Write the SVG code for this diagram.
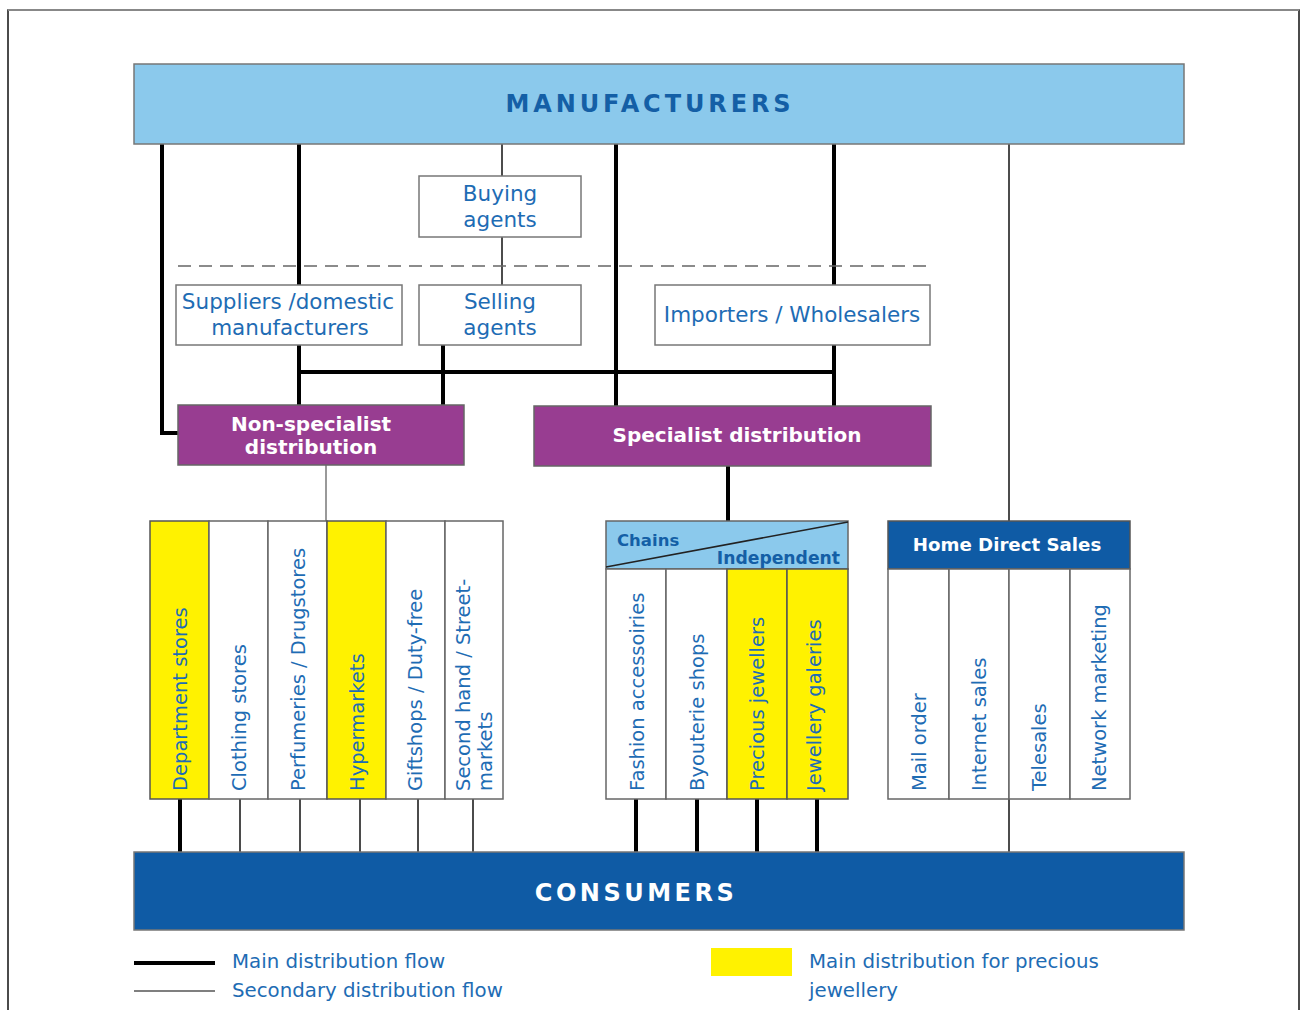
<svg xmlns="http://www.w3.org/2000/svg" width="1301" height="1010" viewBox="0 0 1301 1010">
<style>
.box{fill:#fff;stroke:#777;stroke-width:1.5}
.col{fill:#fff;stroke:#666;stroke-width:1.5}
.yel{fill:#fff200;stroke:#555;stroke-width:1.5}
.pur{fill:#983d91;stroke:#666;stroke-width:1.5}
.t{font-family:"DejaVu Sans",Verdana,sans-serif;fill:#1e6cb4;font-size:21.5px;text-anchor:middle}
.v{font-family:"DejaVu Sans",Verdana,sans-serif;fill:#1e6cb4;font-size:19.5px}
.w{font-family:"DejaVu Sans",Verdana,sans-serif;fill:#fff;font-weight:bold;font-size:20px;text-anchor:middle}
.thick{stroke:#000;stroke-width:4;fill:none}
.thin{stroke:#111;stroke-width:1.5;fill:none}
.lg{font-family:"DejaVu Sans",Verdana,sans-serif;fill:#1e6cb4;font-size:19.8px}
</style>
<rect x="0" y="0" width="1301" height="1010" fill="#fff"/>
<path d="M8 1010 V10 H1299 V1010" fill="none" stroke="#111" stroke-width="1.5"/>
<line x1="8" y1="10" x2="1299" y2="10" stroke="#888" stroke-width="2"/>

<g id="connectors">
<path class="thick" d="M162 144 V433 H178"/>
<path class="thick" d="M299 144 V285"/>
<path class="thick" d="M299 345 V405"/>
<path class="thin" d="M502 144 V176"/>
<path class="thin" d="M502 237 V285"/>
<path class="thick" d="M616 144 V406"/>
<path class="thick" d="M834 144 V285"/>
<path class="thick" d="M834 345 V406"/>
<path class="thin" d="M1009 144 V852"/>
<path class="thick" d="M299 372 H834"/>
<path class="thick" d="M443 345 V405"/>
<path d="M326 465 V521" stroke="#777" stroke-width="1.5"/>
<path class="thick" d="M728 466 V521"/>
<path class="thick" d="M180 799 V852"/>
<path class="thin" d="M240 799 V852 M300 799 V852 M360 799 V852 M418 799 V852 M473 799 V852"/>
<path class="thick" d="M636 799 V852 M697 799 V852 M757 799 V852 M817 799 V852"/>
<line x1="178" y1="266" x2="930" y2="266" stroke="#666" stroke-width="1.5" stroke-dasharray="13,8"/>
</g>

<g id="manufacturers">
<rect x="134" y="64" width="1050" height="80" fill="#8bc9ec" stroke="#777" stroke-width="1.5"/>
<text x="650" y="112" font-family="DejaVu Sans,Verdana,sans-serif" font-weight="bold" font-size="24" fill="#145fa6" text-anchor="middle" letter-spacing="3.9">MANUFACTURERS</text>
</g>

<g id="buying-agents">
<rect class="box" x="419" y="176" width="162" height="61"/>
<text class="t" x="500" y="201">Buying</text>
<text class="t" x="500" y="227">agents</text>
</g>

<g id="suppliers">
<rect class="box" x="176" y="285" width="226" height="60"/>
<text class="t" x="288" y="309">Suppliers /domestic</text>
<text class="t" x="290" y="335">manufacturers</text>
</g>

<g id="selling-agents">
<rect class="box" x="419" y="285" width="162" height="60"/>
<text class="t" x="500" y="309">Selling</text>
<text class="t" x="500" y="335">agents</text>
</g>

<g id="importers">
<rect class="box" x="655" y="285" width="275" height="60"/>
<text class="t" x="792" y="322">Importers / Wholesalers</text>
</g>

<g id="non-specialist">
<rect class="pur" x="178" y="405" width="286" height="60"/>
<text class="w" x="311" y="431" font-size="21">Non-specialist</text>
<text class="w" x="311" y="454" font-size="21">distribution</text>
</g>

<g id="specialist">
<rect class="pur" x="534" y="406" width="397" height="60"/>
<text class="w" x="737" y="442">Specialist distribution</text>
</g>

<g id="non-specialist-outlets">
<rect class="yel" x="150" y="521" width="59" height="278"/>
<rect class="col" x="209" y="521" width="59" height="278"/>
<rect class="col" x="268" y="521" width="59" height="278"/>
<rect class="yel" x="327" y="521" width="59" height="278"/>
<rect class="col" x="386" y="521" width="59" height="278"/>
<rect class="col" x="445" y="521" width="58" height="278"/>
<text class="v" transform="translate(187,791) rotate(-90)">Department stores</text>
<text class="v" transform="translate(246,791) rotate(-90)">Clothing stores</text>
<text class="v" transform="translate(305,791) rotate(-90)">Perfumeries / Drugstores</text>
<text class="v" transform="translate(364,791) rotate(-90)">Hypermarkets</text>
<text class="v" transform="translate(422,791) rotate(-90)">Giftshops / Duty-free</text>
<text class="v" transform="translate(470,791) rotate(-90)">Second hand / Street-</text>
<text class="v" transform="translate(492,791) rotate(-90)">markets</text>
</g>

<g id="specialist-outlets">
<rect x="606" y="521" width="242" height="48" fill="#8bc9ec" stroke="#666" stroke-width="1.5"/>
<line x1="606" y1="567" x2="848" y2="522" stroke="#222" stroke-width="1.5"/>
<text x="617" y="546" font-family="DejaVu Sans,Verdana,sans-serif" font-weight="bold" font-size="16.5" fill="#145fa6">Chains</text>
<text x="840" y="564" font-family="DejaVu Sans,Verdana,sans-serif" font-weight="bold" font-size="17.2" fill="#145fa6" text-anchor="end">Independent</text>
<rect class="col" x="606" y="569" width="60" height="230"/>
<rect class="col" x="666" y="569" width="61" height="230"/>
<rect class="yel" x="727" y="569" width="60" height="230"/>
<rect class="yel" x="787" y="569" width="61" height="230"/>
<text class="v" transform="translate(644,791) rotate(-90)">Fashion accessoiries</text>
<text class="v" transform="translate(704,791) rotate(-90)">Byouterie shops</text>
<text class="v" transform="translate(764,791) rotate(-90)">Precious jewellers</text>
<text class="v" transform="translate(821,791) rotate(-90)">Jewellery galeries</text>
</g>

<g id="home-direct-sales">
<rect x="888" y="521" width="242" height="48" fill="#0f5ba5" stroke="#555" stroke-width="1.5"/>
<text x="1007" y="551" font-family="DejaVu Sans,Verdana,sans-serif" font-weight="bold" font-size="18.2" fill="#fff" text-anchor="middle">Home Direct Sales</text>
<rect class="col" x="888" y="569" width="61" height="230"/>
<rect class="col" x="949" y="569" width="60" height="230"/>
<rect class="col" x="1009" y="569" width="61" height="230"/>
<rect class="col" x="1070" y="569" width="60" height="230"/>
<text class="v" transform="translate(926,791) rotate(-90)">Mail order</text>
<text class="v" transform="translate(986,791) rotate(-90)">Internet sales</text>
<text class="v" transform="translate(1046,791) rotate(-90)">Telesales</text>
<text class="v" transform="translate(1106,791) rotate(-90)">Network marketing</text>
</g>

<g id="consumers">
<rect x="134" y="852" width="1050" height="78" fill="#0f5ba5" stroke="#777" stroke-width="1.5"/>
<text x="636" y="901" font-family="DejaVu Sans,Verdana,sans-serif" font-weight="bold" font-size="24" fill="#fff" text-anchor="middle" letter-spacing="3.5">CONSUMERS</text>
</g>

<g id="legend">
<line x1="134" y1="963" x2="215" y2="963" stroke="#000" stroke-width="4"/>
<line x1="134" y1="991" x2="215" y2="991" stroke="#555" stroke-width="1.5"/>
<text class="lg" x="232" y="968">Main distribution flow</text>
<text class="lg" x="232" y="997">Secondary distribution flow</text>
<rect x="711" y="948" width="81" height="28" fill="#fff200"/>
<text class="lg" x="809" y="968">Main distribution for precious</text>
<text class="lg" x="809" y="997">jewellery</text>
</g>
</svg>
